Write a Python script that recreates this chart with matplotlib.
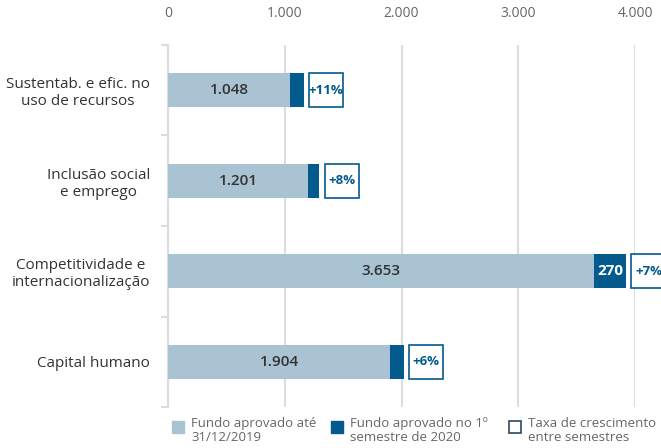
import matplotlib.pyplot as plt
from matplotlib.patches import Rectangle

plt.rcParams['font.family'] = ['Open Sans', 'DejaVu Sans']

categories = ['Sustentab. e efic. no\nuso de recursos', 'Inclusão social\ne emprego',
              'Competitividade e\ninternacionalização', 'Capital humano']
fundo_2019 = [1048, 1201, 3653, 1904]
fundo_2020 = [115, 96, 270, 114]
label_2019 = ['1.048', '1.201', '3.653', '1.904']
label_2020 = ['', '', '270', '']
growth = ['+11%', '+8%', '+7%', '+6%']
xticks = [0, 1000, 2000, 3000, 4000]
xtick_labels = ['0', '1.000', '2.000', '3.000', '4.000']
legend_labels = ['Fundo aprovado até\n31/12/2019', 'Fundo aprovado no 1º\nsemestre de 2020',
                 'Taxa de crescimento\nentre semestres']

light = '#a9c3d3'
dark = '#035a8d'

fig = plt.figure(figsize=(6.61, 4.48), dpi=100)
ax = fig.add_axes([168 / 661, 41 / 448, 467 / 661, 362 / 448])

y = list(range(len(categories)))
h = 0.38
ax.barh(y, fundo_2019, height=h, color=light, zorder=3)
ax.barh(y, fundo_2020, left=fundo_2019, height=h, color=dark, zorder=3)

for i in y:
    ax.text(fundo_2019[i] / 2, i, label_2019[i], ha='center', va='center',
            fontsize=11, color='#333333', fontweight='semibold', zorder=4)
    if label_2020[i]:
        ax.text(fundo_2019[i] + fundo_2020[i] / 2, i, label_2020[i], ha='center', va='center',
                fontsize=11, color='white', fontweight='bold', zorder=4)
    end = fundo_2019[i] + fundo_2020[i]
    rect = Rectangle((end + 45, i - h / 2), 295, h, facecolor='white', edgecolor=dark,
                     linewidth=1.2, zorder=4, clip_on=False)
    ax.add_patch(rect)
    ax.text(end + 45 + 147, i, growth[i], ha='center', va='center', fontsize=9.5,
            color=dark, fontweight='bold', zorder=5, clip_on=False)

ax.set_xlim(0, 4000)
ax.set_ylim(3.5, -0.5)
ax.set_xticks(xticks)
ax.set_xticklabels(xtick_labels)
ax.xaxis.tick_top()
ax.tick_params(axis='x', length=0, pad=17, labelsize=10, labelcolor='#666666')
ax.grid(True, axis='x', color='#dddddd', linewidth=1.5, zorder=0)

ax.set_yticks(y)
ax.set_yticklabels(categories, fontsize=11, color='#333333', multialignment='center')
ax.tick_params(axis='y', which='major', length=0, pad=13)
ax.set_yticks([-0.5, 0.5, 1.5, 2.5, 3.5], minor=True)
ax.tick_params(axis='y', which='minor', length=5, color='#dddddd', width=1.5)

for s in ['top', 'right', 'bottom']:
    ax.spines[s].set_visible(False)
ax.spines['left'].set_color('#dddddd')
ax.spines['left'].set_linewidth(1.5)

# legend drawn by hand so the swatch sits on the first text line
W, H = 661, 448
legend_x = [172, 331, 509]
styles = [dict(facecolor=light, edgecolor=light),
          dict(facecolor=dark, edgecolor=dark),
          dict(facecolor='white', edgecolor='#2a4a63', linewidth=1.2)]
for x0, lab, st in zip(legend_x, legend_labels, styles):
    fig.add_artist(Rectangle((x0 / W, 1 - 433 / H), 12 / W, 12 / H,
                             transform=fig.transFigure, **st))
    fig.text((x0 + 19) / W, 1 - 417 / H, lab, ha='left', va='top', fontsize=9.5,
             color='#666666', linespacing=1.05)

fig.savefig('out.png', dpi=100)
